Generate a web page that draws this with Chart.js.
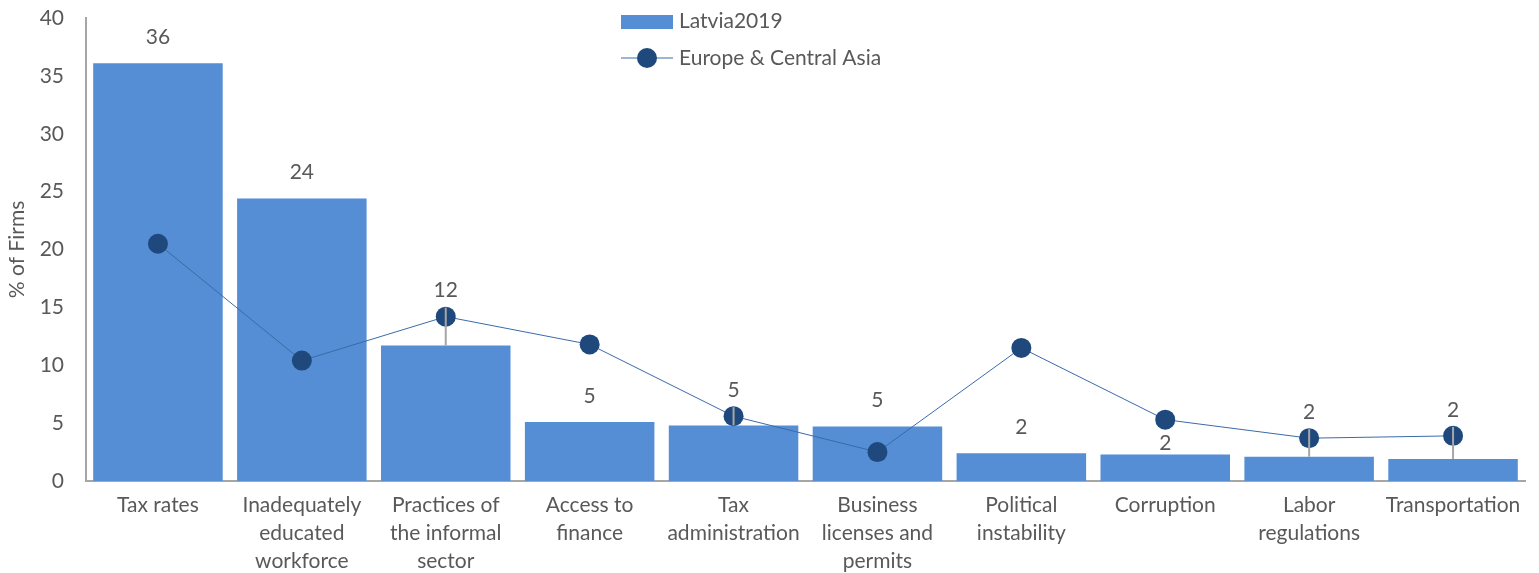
<!DOCTYPE html>
<html>
<head>
<meta charset="utf-8">
<script src="https://cdn.jsdelivr.net/npm/chart.js@4"></script>
<style>
  html, body { margin: 0; padding: 0; background: #fff; }
  #wrap { width: 1539px; height: 573px; }
</style>
</head>
<body>
<div id="wrap"><canvas id="chart"></canvas></div>
<script>
// categorie e valori
const categories = [
    'Tax rates',
    ['Inadequately', 'educated', 'workforce'],
    ['Practices of', 'the informal', 'sector'],
    ['Access to', 'finance'],
    ['Tax', 'administration'],
    ['Business', 'licenses and', 'permits'],
    ['Political', 'instability'],
    'Corruption',
    ['Labor', 'regulations'],
    'Transportation'
];
const latvia = [36.1, 24.4, 11.7, 5.1, 4.8, 4.7, 2.4, 2.3, 2.1, 1.9];
const eca = [20.5, 10.4, 14.2, 11.8, 5.6, 2.5, 11.5, 5.3, 3.7, 3.9];
const yTicks = [0, 5, 10, 15, 20, 25, 30, 35, 40];

const FONT = 'Lato, Calibri, sans-serif';
const FSIZE = 21;
const TEXT = '#595959';
const BAR = '#558ED5';
const DOT = '#1F497D';
const LINE = '#3A6AA8';

// etichette valori + linee guida grigie
const valueLabels = {
    id: 'valueLabels',
    afterDatasetsDraw(chart) {
        const ctx = chart.ctx;
        const bars = chart.getDatasetMeta(0).data;
        const dots = chart.getDatasetMeta(1).data;
        ctx.save();
        ctx.font = FSIZE + 'px ' + FONT;
        ctx.fillStyle = TEXT;
        ctx.textAlign = 'center';
        ctx.textBaseline = 'middle';
        bars.forEach((bar, i) => {
            const dot = dots[i];
            let ly = bar.y - 26;
            const gap = bar.y - dot.y;
            if (gap > 0 && Math.abs(ly - dot.y) < 18) {
                if (gap < 32) {
                    // sopra il punto, con leader line
                    ly = dot.y - 26;
                    ctx.strokeStyle = '#A6A6A6';
                    ctx.lineWidth = 2;
                    ctx.beginPath();
                    ctx.moveTo(bar.x, bar.y);
                    ctx.lineTo(bar.x, ly + 17);
                    ctx.stroke();
                } else {
                    ly = bar.y - 11;
                }
            }
            ctx.fillText(String(Math.round(latvia[i])), bar.x, ly);
        });
        ctx.restore();
    }
};

// legenda disegnata a mano (non occupa spazio)
const floatLegend = {
    id: 'floatLegend',
    afterDraw(chart) {
        const ctx = chart.ctx;
        const ds = chart.data.datasets;
        ctx.save();
        ctx.font = FSIZE + 'px ' + FONT;
        ctx.textBaseline = 'middle';
        ctx.textAlign = 'left';

        ctx.fillStyle = BAR;
        ctx.fillRect(621, 15, 52, 14);
        ctx.fillStyle = TEXT;
        ctx.fillText(ds[0].label, 679, 21);

        ctx.strokeStyle = LINE;
        ctx.lineWidth = 1;
        ctx.beginPath();
        ctx.moveTo(621, 58);
        ctx.lineTo(673, 58);
        ctx.stroke();
        ctx.fillStyle = DOT;
        ctx.beginPath();
        ctx.arc(647, 58, 10, 0, Math.PI * 2);
        ctx.fill();
        ctx.fillStyle = TEXT;
        ctx.fillText(ds[1].label, 679, 58);
        ctx.restore();
    }
};

new Chart(document.getElementById('chart'), {
    type: 'bar',
    data: {
        labels: categories,
        datasets: [
            {
                type: 'bar',
                label: 'Latvia2019',
                data: latvia,
                backgroundColor: BAR,
                barPercentage: 0.9,
                categoryPercentage: 1.0,
                order: 2
            },
            {
                type: 'line',
                label: 'Europe & Central Asia',
                data: eca,
                borderColor: LINE,
                borderWidth: 1,
                pointRadius: 10,
                pointBackgroundColor: DOT,
                pointBorderColor: DOT,
                pointBorderWidth: 0,
                tension: 0,
                order: 1
            }
        ]
    },
    options: {
        responsive: true,
        maintainAspectRatio: false,
        animation: false,
        layout: { padding: { top: 18, right: 14, left: 0, bottom: 0 } },
        plugins: {
            legend: { display: false },
            tooltip: { enabled: false }
        },
        scales: {
            x: {
                grid: { display: false, drawTicks: false },
                border: { display: true, color: '#A6A6A6', width: 2 },
                ticks: {
                    color: TEXT,
                    font: { family: FONT, size: FSIZE, lineHeight: 1.34 },
                    padding: 10,
                    maxRotation: 0,
                    autoSkip: false
                },
                afterFit: s => { s.height = 92; s.paddingTop = 0; }
            },
            y: {
                min: 0,
                max: 40,
                grid: { display: false, drawTicks: false },
                border: { display: true, color: '#A6A6A6', width: 2 },
                afterBuildTicks: s => { s.ticks = yTicks.map(v => ({ value: v })); },
                ticks: {
                    color: TEXT,
                    font: { family: FONT, size: FSIZE },
                    padding: 22
                },
                title: {
                    display: true,
                    text: '% of Firms',
                    color: TEXT,
                    font: { family: FONT, size: FSIZE },
                    padding: { top: 5, bottom: 0 }
                },
                afterFit: s => { s.width = 86; s.paddingTop = 0; s.paddingBottom = 0; }
            }
        }
    },
    plugins: [valueLabels, floatLegend]
});
</script>
</body>
</html>
